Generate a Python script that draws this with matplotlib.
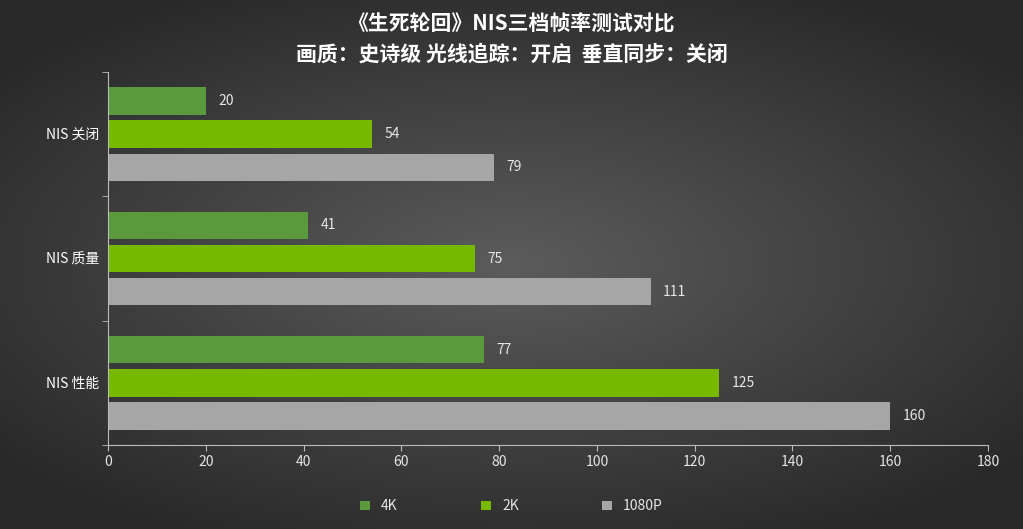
import numpy as np
import matplotlib
matplotlib.use("Agg")
import matplotlib.pyplot as plt

plt.rcParams['font.family'] = ['Noto Sans CJK SC', 'DejaVu Sans']

categories = ["NIS 关闭", "NIS 质量", "NIS 性能"]
series_names = ["4K", "2K", "1080P"]
v4k = [20, 41, 77]
v2k = [54, 75, 125]
v1080 = [79, 111, 160]
colors = ["#5a9a3c", "#76b900", "#a6a6a6"]
xticks = [0, 20, 40, 60, 80, 100, 120, 140, 160, 180]

fig = plt.figure(figsize=(10.23, 5.29), dpi=100)
bg = fig.add_axes([0, 0, 1, 1])
yy, xx = np.mgrid[-1:1:529j, -1:1:1023j]
r = np.sqrt((xx / 1.0) ** 2 + (yy / 0.9) ** 2)
val = 0.36 - 0.2 * np.clip(r, 0, 1.3) / 1.3
bg.imshow(np.dstack([val, val, val]), aspect='auto', extent=[0, 1, 0, 1])
bg.axis('off')

ax = fig.add_axes([108/1023, 84/529, 880/1023, 373/529])
ax.set_facecolor('none')
ax.set_xlim(0, 180)
ax.set_ylim(2.5, -0.5)
h = 0.22
off = 0.266
for vals, o, c, name in zip([v4k, v2k, v1080], [-off, 0, off], colors, series_names):
    y = np.arange(len(categories)) + o
    ax.barh(y, vals, height=h, color=c, label=name)
    for yi, v in zip(y, vals):
        ax.text(v + 2.5, yi, str(v), color="#e6e6e6", va='center', ha='left', fontsize=10)

ax.set_xticks(xticks)
ax.set_yticks([0, 1, 2])
ax.set_yticklabels(categories)
ax.set_yticks([-0.5, 0.5, 1.5, 2.5], minor=True)
ax.tick_params(axis='y', which='major', length=0, colors='white', labelsize=10, pad=6)
ax.tick_params(axis='y', which='minor', length=4, color='#bbbbbb')
ax.tick_params(axis='x', colors='#e6e6e6', labelsize=10, color='#bbbbbb', length=4)
for s in ['top', 'right']:
    ax.spines[s].set_visible(False)
for s in ['left', 'bottom']:
    ax.spines[s].set_color('#bbbbbb')

fig.text(0.5, 0.955, "《生死轮回》NIS三档帧率测试对比", color='white', fontsize=15,
         fontweight='bold', ha='center', va='center')
fig.text(0.5, 0.897, "画质：史诗级 光线追踪：开启  垂直同步：关闭", color='white', fontsize=15,
         fontweight='bold', ha='center', va='center')

leg = fig.legend(loc='center', bbox_to_anchor=(0.5, 0.043), ncol=3, frameon=False,
                 labelcolor='#e6e6e6', fontsize=10, handlelength=0.7, handleheight=0.7,
                 columnspacing=6)
fig.savefig("out.png", dpi=100)
